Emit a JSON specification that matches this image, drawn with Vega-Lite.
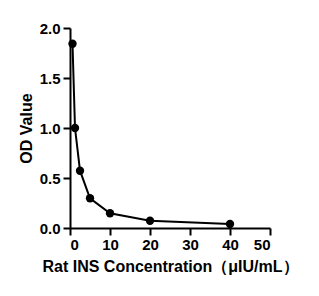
{
  "$schema": "https://vega.github.io/schema/vega-lite/v6.json",
  "autosize": "none",
  "width": 200,
  "height": 200,
  "padding": {"left": 70, "top": 28, "right": 49, "bottom": 68},
  "background": "white",
  "config": {"view": {"stroke": null}},
  "data": {"values": [
    {"conc": 0.625, "od": 1.843},
    {"conc": 1.25, "od": 1.0},
    {"conc": 2.5, "od": 0.573},
    {"conc": 5, "od": 0.297},
    {"conc": 10, "od": 0.147},
    {"conc": 20, "od": 0.073},
    {"conc": 40, "od": 0.04}
  ]},
  "encoding": {
    "x": {"field": "conc", "type": "quantitative",
      "scale": {"domain": [0, 50], "nice": false, "zero": false},
      "axis": {"values": [0, 10, 20, 30, 40, 50], "grid": false, "domainColor": "black", "domainWidth": 2, "tickColor": "black", "tickWidth": 2, "tickSize": 7,
        "labelFont": "Liberation Sans", "labelFontWeight": "bold", "labelFontSize": 15, "labelColor": "black", "labelPadding": 2,
        "title": "Rat INS Concentration（μIU/mL）", "titleFont": "Liberation Sans", "titleFontWeight": "bold", "titleFontSize": 16, "titleColor": "black", "titlePadding": 6}},
    "y": {"field": "od", "type": "quantitative",
      "scale": {"domain": [0, 2], "nice": false},
      "axis": {"values": [0, 0.5, 1, 1.5, 2], "format": ".1f", "grid": false, "domainColor": "black", "domainWidth": 2, "tickColor": "black", "tickWidth": 2, "tickSize": 7,
        "labelFont": "Liberation Sans", "labelFontWeight": "bold", "labelFontSize": 15, "labelColor": "black", "labelPadding": 3,
        "title": "OD Value", "titleFont": "Liberation Sans", "titleFontWeight": "bold", "titleFontSize": 16, "titleColor": "black", "titlePadding": 5}}
  },
  "layer": [
    {"mark": {"type": "line", "color": "black", "strokeWidth": 2}},
    {"mark": {"type": "point", "filled": true, "color": "black", "opacity": 1, "size": 70}}
  ]
}
